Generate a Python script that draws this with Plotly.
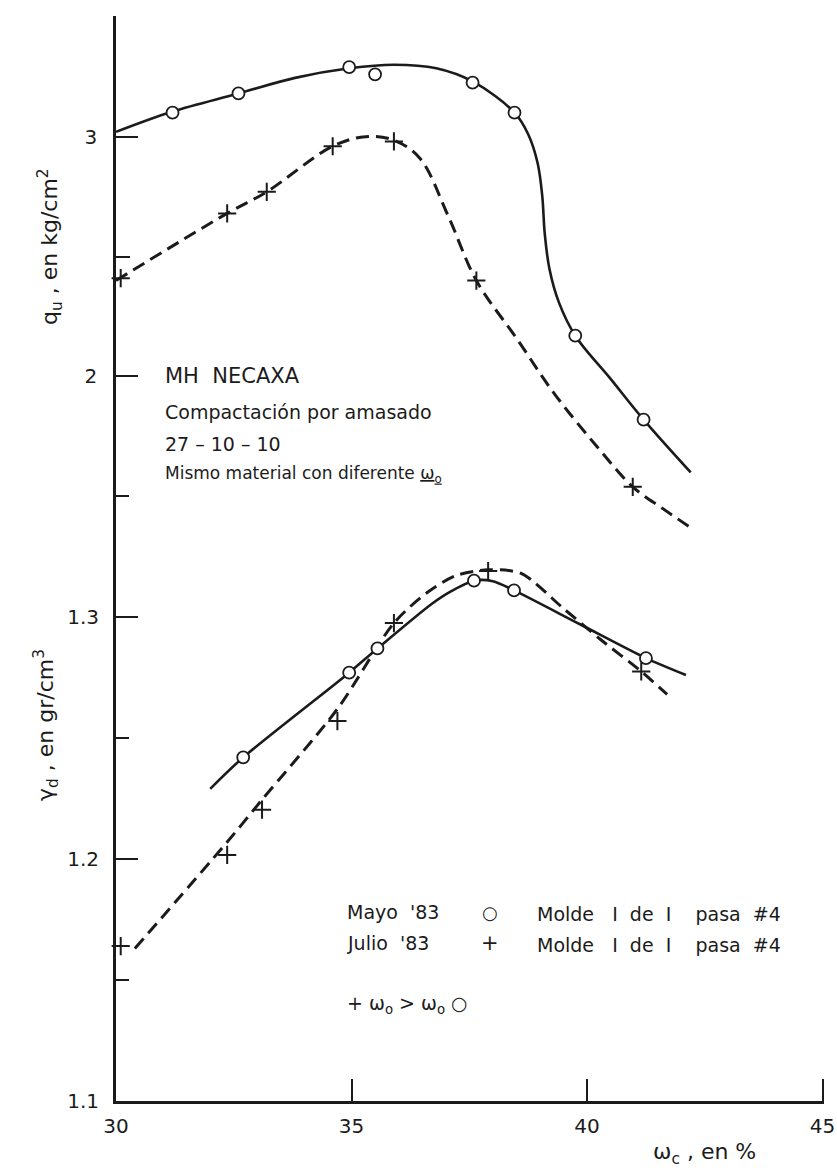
import plotly.graph_objects as go

# ---- data: water content w_c (%) against q_u and gamma_d ----
# Mayo '83 (circles): unconfined strength q_u, kg/cm2
mayo_qu_w = [31.2, 32.6, 34.95, 35.5, 37.57, 38.46, 39.75, 41.2]
mayo_qu = [3.10, 3.18, 3.29, 3.26, 3.225, 3.10, 2.17, 1.82]
# fitted curve through the Mayo q_u points
mayo_qu_curve_w = [30.0, 31.2, 32.6, 33.8, 34.95, 35.9, 36.8, 37.57, 38.46, 38.75,
                   38.95, 39.05, 39.1, 39.2, 39.4, 39.75, 40.5, 41.2, 42.2]
mayo_qu_curve = [3.02, 3.105, 3.18, 3.245, 3.285, 3.30, 3.285, 3.23, 3.10, 3.01,
                 2.89, 2.75, 2.60, 2.45, 2.31, 2.17, 1.99, 1.82, 1.60]

# Julio '83 (crosses): q_u
julio_qu_w = [30.1, 32.36, 33.2, 34.6, 35.9, 37.65, 40.97]
julio_qu = [2.41, 2.68, 2.77, 2.96, 2.98, 2.40, 1.54]
julio_qu_curve_w = [30.0, 32.36, 33.2, 34.6, 35.3, 35.9, 36.45, 37.05, 37.65, 38.5,
                    39.3, 40.2, 40.97, 41.6, 42.2]
julio_qu_curve = [2.40, 2.68, 2.77, 2.96, 3.00, 2.985, 2.91, 2.67, 2.40, 2.16,
                  1.93, 1.71, 1.54, 1.45, 1.37]

# Mayo '83 (circles): dry unit weight gamma_d, gr/cm3
mayo_gd_w = [32.7, 34.95, 35.55, 37.6, 38.45, 41.25]
mayo_gd = [1.242, 1.277, 1.287, 1.315, 1.311, 1.283]
mayo_gd_curve_w = [32.0, 32.7, 34.95, 35.55, 36.7, 37.1, 37.6, 38.0, 38.45, 39.85, 41.25, 42.1]
mayo_gd_curve = [1.229, 1.242, 1.277, 1.287, 1.3054, 1.3105, 1.315, 1.3148, 1.311, 1.297, 1.283, 1.276]

# Julio '83 (crosses): gamma_d
julio_gd_w = [30.1, 32.36, 33.1, 34.7, 35.9, 37.9, 41.15]
julio_gd = [1.164, 1.2017, 1.2204, 1.257, 1.2975, 1.319, 1.2775]
julio_gd_curve_w = [30.4, 32.36, 33.1, 34.7, 35.9, 36.6, 37.2, 37.9, 38.6, 39.5, 40.3, 41.15, 41.7]
julio_gd_curve = [1.163, 1.207, 1.2245, 1.262, 1.2975, 1.310, 1.317, 1.3195, 1.318, 1.3035, 1.2905, 1.2775, 1.268]

# axis ticks
x_ticks = [30, 35, 40, 45]
qu_ticks = [2, 3]
qu_minor = [2.5, 3.5]
gd_ticks = [1.1, 1.2, 1.3]
gd_minor = [1.15, 1.25, 1.35]

# ---- page geometry ----
W, H = 837, 1171
ML, MR, MT, MB = 116, 13, 16, 70
PW, PH = W - ML - MR, H - MT - MB
X_HI = 45.03
QU_TOP = 3.5
QU_LO = QU_TOP - PH / 240.0          # 240 px per kg/cm2
GD_LO = 1.1
GD_HI = GD_LO + PH / 2420.0           # 2420 px per gr/cm3

INK = "#1b1b1b"
FONT = "DejaVu Sans"
NB = "\u00a0"


def px(x):
    return (x - ML) / PW


def py(y):
    return 1 - (y - MT) / PH


fig = go.Figure()

solid = dict(color=INK, width=2.6)
dashed = dict(color=INK, width=3, dash="13px,7px")

fig.add_trace(go.Scatter(x=mayo_qu_curve_w, y=mayo_qu_curve, mode="lines",
                         line=dict(shape="spline", smoothing=1.0, **solid), yaxis="y"))
fig.add_trace(go.Scatter(x=julio_qu_curve_w, y=julio_qu_curve, mode="lines",
                         line=dict(shape="spline", smoothing=1.0, **dashed), yaxis="y"))
fig.add_trace(go.Scatter(x=mayo_gd_curve_w, y=mayo_gd_curve, mode="lines",
                         line=dict(shape="spline", smoothing=0.8, **solid), yaxis="y2"))
fig.add_trace(go.Scatter(x=julio_gd_curve_w, y=julio_gd_curve, mode="lines",
                         line=dict(shape="spline", smoothing=0.8, **dashed), yaxis="y2"))

circle = dict(symbol="circle", size=12, color="white", line=dict(color=INK, width=1.8))
cross = dict(symbol="cross-thin-open", size=13, color=INK, line=dict(color=INK, width=2))

fig.add_trace(go.Scatter(x=mayo_qu_w, y=mayo_qu, mode="markers", marker=circle,
                         yaxis="y", cliponaxis=False))
fig.add_trace(go.Scatter(x=julio_qu_w, y=julio_qu, mode="markers", marker=cross,
                         yaxis="y", cliponaxis=False))
fig.add_trace(go.Scatter(x=mayo_gd_w, y=mayo_gd, mode="markers", marker=circle,
                         yaxis="y2", cliponaxis=False))
fig.add_trace(go.Scatter(x=julio_gd_w, y=julio_gd, mode="markers", marker=cross,
                         yaxis="y2", cliponaxis=False))

tickfont = dict(family=FONT, size=20, color=INK)

fig.update_layout(
    width=W, height=H,
    margin=dict(l=ML, r=MR, t=MT, b=MB, autoexpand=False),
    paper_bgcolor="white", plot_bgcolor="white",
    showlegend=False,
    font=dict(family=FONT, color=INK),
    xaxis=dict(range=[30, X_HI], tickmode="array", tickvals=x_ticks,
               ticktext=[str(v) for v in x_ticks],
               ticks="inside", ticklen=22, tickwidth=2, tickcolor=INK,
               showline=True, linewidth=2.5, linecolor=INK,
               showgrid=False, zeroline=False, tickfont=tickfont,
               ticklabelstandoff=5, ticklabeloverflow="allow", automargin=False),
    yaxis=dict(range=[QU_LO, QU_TOP + 0.003], tickmode="array", tickvals=qu_ticks,
               ticktext=[str(v) for v in qu_ticks],
               ticks="inside", ticklen=22, tickwidth=2, tickcolor=INK,
               minor=dict(tickmode="array", tickvals=qu_minor, ticks="inside",
                          ticklen=14, tickwidth=2, tickcolor=INK, showgrid=False),
               showline=True, linewidth=2.5, linecolor=INK,
               showgrid=False, zeroline=False, tickfont=tickfont,
               ticklabelstandoff=12, automargin=False),
    yaxis2=dict(overlaying="y", side="left", range=[GD_LO, GD_HI],
                tickmode="array", tickvals=gd_ticks,
                ticktext=[f"{v:.1f}" for v in gd_ticks],
                ticks="inside", ticklen=22, tickwidth=2, tickcolor=INK,
                minor=dict(tickmode="array", tickvals=gd_minor, ticks="inside",
                           ticklen=13, tickwidth=2, tickcolor=INK, showgrid=False),
                showline=False, showgrid=False, zeroline=False, tickfont=tickfont,
                ticklabelstandoff=16, automargin=False),
)

annotations = []


def label(text, x, y, size=18, xanchor="left", angle=0):
    annotations.append(dict(text=text, x=px(x), y=py(y), xref="paper", yref="paper",
                            xanchor=xanchor, yanchor="middle", showarrow=False,
                            textangle=angle, font=dict(family=FONT, size=size, color=INK)))


# axis titles
label("q<sub>u</sub> , en kg/cm<sup>2</sup>", 50, 247, size=22, xanchor="center", angle=-90)
label("γ<sub>d</sub> , en gr/cm<sup>3</sup>", 46, 725, size=22, xanchor="center", angle=-90)
label("ω<sub>c</sub> , en %", 704, 1153, size=22, xanchor="center")

# description block
label(f"MH{NB}{NB}NECAXA", 163, 376, size=21)
label("Compactación por amasado", 163, 412, size=19)
label(f"27{NB}–{NB}10{NB}–{NB}10", 163, 444, size=19)
label("Mismo material con diferente <u>ω<sub>o</sub></u>", 163, 474, size=17)

# key
molde = f"Molde{NB * 3}I{NB * 2}de{NB * 2}I{NB * 4}pasa{NB * 2}#4"
label(f"Mayo{NB * 2}'83", 345, 912, size=19)
label(f"Julio{NB * 2}'83", 345, 943, size=19)
label("○", 490, 912, size=18, xanchor="center")
label("+", 490, 943, size=21, xanchor="center")
label(molde, 535, 914, size=19)
label(molde, 535, 945, size=19)
label(f"+{NB}ω<sub>o</sub>{NB}>{NB}ω<sub>o</sub>{NB}○", 345, 1004, size=19)

fig.update_layout(annotations=annotations)

fig.write_html("out.html")
